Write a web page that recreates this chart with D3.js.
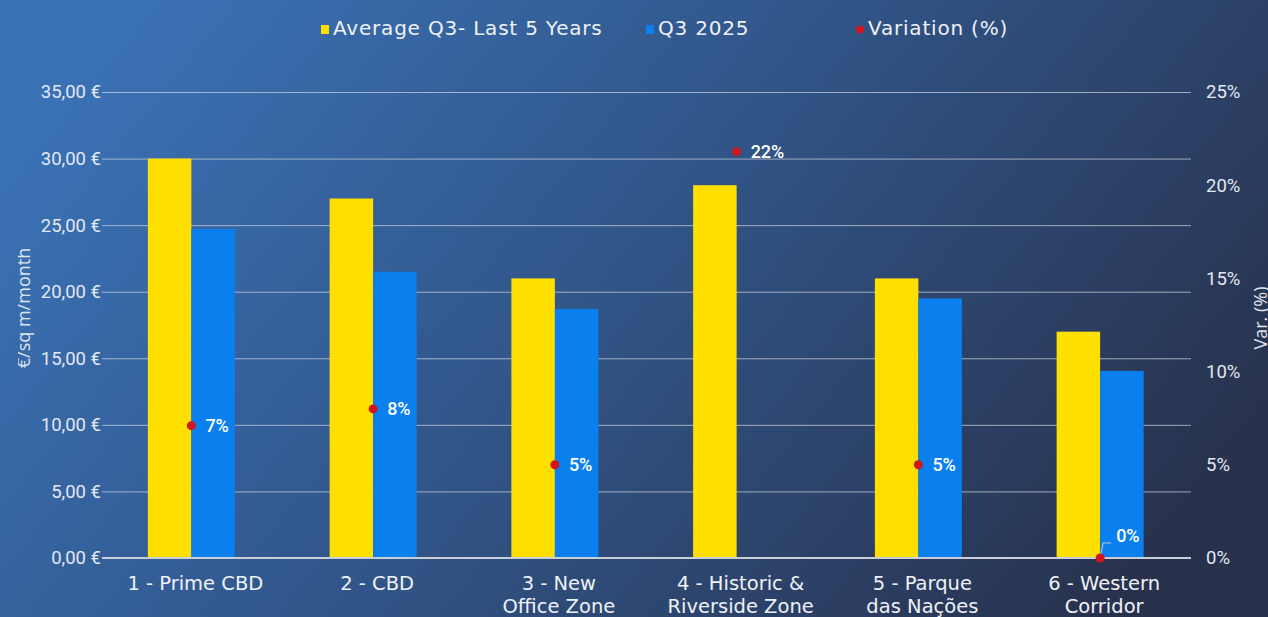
<!DOCTYPE html>
<html>
<head>
<meta charset="utf-8">
<script src="https://cdn.jsdelivr.net/npm/d3@7"></script>
<style>
  html, body { margin: 0; padding: 0; background: #2f5080; }
  svg { display: block; }
</style>
</head>
<body>
<div class="chart"></div>
<script>
// data
var categories = ["1 - Prime CBD", "2 - CBD", "3 - New|Office Zone", "4 - Historic &|Riverside Zone", "5 - Parque|das Nações", "6 - Western|Corridor"];
var avgLast5 = [30, 27, 21, 28, 21, 17];
var q3_2025 = [24.7, 21.5, 18.7, null, 19.5, 14.05];
var variation = [0.071, 0.080, 0.050, 0.218, 0.050, 0.0];
var leftTicks = [0, 5, 10, 15, 20, 25, 30, 35];
var rightTicks = [0, 0.05, 0.10, 0.15, 0.20, 0.25];

const width = 1268, height = 617;
const margin = {top: 92, right: 77, bottom: 59, left: 100};
const labelFont = "'DejaVu Sans'";

const svg = d3.select(".chart").append("svg")
    .attr("width", width)
    .attr("height", height);

// background gradient
var defs = svg.append("defs");
var grad = defs.append("linearGradient")
    .attr("id", "bg")
    .attr("x1", "0%").attr("y1", "30%")
    .attr("x2", "100%").attr("y2", "70%");
grad.append("stop").attr("offset", "0%").attr("stop-color", "#3a71b4");
grad.append("stop").attr("offset", "45%").attr("stop-color", "#31568a");
grad.append("stop").attr("offset", "100%").attr("stop-color", "#28314c");
svg.append("rect").attr("width", width).attr("height", height).attr("fill", "url(#bg)");

// the left title is cut on its top side in the original
defs.append("clipPath").attr("id", "titleclip")
  .append("rect").attr("x", 18).attr("y", 0).attr("width", 40).attr("height", height);

// scales
var x = d3.scaleBand()
    .domain(categories)
    .range([margin.left + 0.5, width - margin.right])
    .padding(0);

var bw = x.bandwidth();
var xs = d3.scaleBand()
    .domain(["avg", "q3"])
    .range([bw / 2 - 43.5, bw / 2 + 43.5]);

var y = d3.scaleLinear().domain([0, 35]).range([height - margin.bottom, margin.top]);
var y2 = d3.scaleLinear().domain([0, 0.25]).range([height - margin.bottom, margin.top]);

var euro = function(d) { return d3.format(".2f")(d).replace(".", ",") + " €"; };
var pct = d3.format(".0%");

// gridlines + left axis
var yAxis = svg.append("g")
    .attr("transform", "translate(" + (margin.left + 2) + ",0)")
    .call(d3.axisLeft(y).tickValues(leftTicks).tickFormat(euro)
      .tickSize(-(width - margin.right - margin.left - 2)).tickPadding(1));
yAxis.select(".domain").remove();
yAxis.selectAll(".tick line")
    .attr("stroke", "#c8cfdb")
    .attr("stroke-opacity", 0.75);
yAxis.selectAll(".tick text")
    .attr("fill", "#e3e8f1")
    .style("font-family", "Roboto")
    .style("font-size", "18.5px");

// right axis
var y2Axis = svg.append("g")
    .attr("transform", "translate(" + (width - margin.right) + ",0)")
    .call(d3.axisRight(y2).tickValues(rightTicks).tickFormat(pct).tickSize(0).tickPadding(15));
y2Axis.select(".domain").remove();
y2Axis.selectAll(".tick text")
    .attr("fill", "#e3e8f1")
    .style("font-family", "Roboto")
    .style("font-size", "18.5px");

// bars
var groups = svg.append("g").selectAll("g")
    .data(categories)
    .join("g")
    .attr("transform", function(d) { return "translate(" + x(d) + ",0)"; });

groups.append("rect")
    .attr("x", xs("avg"))
    .attr("width", xs.bandwidth())
    .attr("y", function(d, i) { return y(avgLast5[i]); })
    .attr("height", function(d, i) { return y(0) - y(avgLast5[i]); })
    .attr("fill", "#ffdf00");

groups.filter(function(d, i) { return q3_2025[i] != null; })
  .append("rect")
    .attr("x", xs("q3"))
    .attr("width", xs.bandwidth())
    .attr("y", function(d) { return y(q3_2025[categories.indexOf(d)]); })
    .attr("height", function(d) { return y(0) - y(q3_2025[categories.indexOf(d)]); })
    .attr("fill", "#0a80ee");

// baseline
svg.append("line")
    .attr("x1", margin.left + 2).attr("x2", width - margin.right)
    .attr("y1", y(0)).attr("y2", y(0))
    .attr("stroke", "#c9cfd9")
    .attr("stroke-width", 2);

// category labels
var catLabels = svg.append("g").selectAll("text")
    .data(categories)
    .join("text")
    .attr("x", function(d) { return x(d) + bw / 2 + 4; })
    .attr("y", y(0) + 32)
    .attr("text-anchor", "middle")
    .attr("fill", "#eef1f6")
    .style("font-family", labelFont)
    .style("font-size", "19.5px");
catLabels.each(function(d) {
  var lines = d.split("|");
  var t = d3.select(this);
  lines.forEach(function(l, j) {
    t.append("tspan")
      .attr("x", t.attr("x"))
      .attr("dy", j == 0 ? 0 : 23)
      .text(l);
  });
});

// variation points
var cx = function(i) { return x(categories[i]) + bw / 2; };
var pts = svg.append("g");
variation.forEach(function(v, i) {
  var px = cx(i), py = y2(v);
  var tx = px + 14, ty = py;
  if (v === 0) {
    // leader line for the 0% label
    pts.append("path")
      .attr("d", "M" + px + "," + py + "L" + (px + 3) + "," + (py - 15) + "L" + (px + 11) + "," + (py - 15))
      .attr("fill", "none")
      .attr("stroke", "#b9c2d0")
      .attr("stroke-width", 1.2);
    tx = px + 16; ty = py - 22;
  }
  pts.append("text")
    .attr("x", tx).attr("y", ty)
    .attr("dy", "0.35em")
    .attr("fill", "#ffffff")
    .style("font-family", "Roboto")
    .style("font-size", "18px")
    .style("font-weight", 500)
    .text(pct(v));
  pts.append("circle")
    .attr("cx", px).attr("cy", py)
    .attr("r", 4.5)
    .attr("fill", "#d0161f");
});

// axis titles
svg.append("g")
    .attr("clip-path", "url(#titleclip)")
  .append("text")
    .attr("transform", "translate(30,308) rotate(-90)")
    .attr("text-anchor", "middle")
    .attr("fill", "#dfe5ef")
    .style("font-family", "'Open Sans'")
    .style("font-size", "18px")
    .text("€/sq m/month");

svg.append("text")
    .attr("transform", "translate(1267,318) rotate(-90)")
    .attr("text-anchor", "middle")
    .attr("fill", "#dfe5ef")
    .style("font-family", "'Open Sans'")
    .style("font-size", "18px")
    .text("Var. (%)");

// legend
var legendItems = [
  {label: "Average Q3- Last 5 Years", color: "#ffdf00", shape: "rect", x: 321},
  {label: "Q3 2025", color: "#0a80ee", shape: "rect", x: 646},
  {label: "Variation (%)", color: "#d0161f", shape: "circle", x: 856}
];
var legend = svg.append("g").selectAll("g")
    .data(legendItems)
    .join("g")
    .attr("transform", function(d) { return "translate(" + d.x + ",28)"; });
legend.filter(function(d) { return d.shape == "rect"; })
  .append("rect")
    .attr("x", 0).attr("y", -3).attr("width", 8).attr("height", 9)
    .attr("fill", function(d) { return d.color; });
legend.filter(function(d) { return d.shape == "circle"; })
  .append("circle")
    .attr("cx", 4).attr("cy", 1.5).attr("r", 4)
    .attr("fill", function(d) { return d.color; });
legend.append("text")
    .attr("x", 12).attr("y", 0)
    .attr("dy", "0.35em")
    .attr("fill", "#eef1f6")
    .style("font-family", labelFont)
    .style("font-size", "20px")
    .style("letter-spacing", "0.8px")
    .text(function(d) { return d.label; });
</script>
</body>
</html>
